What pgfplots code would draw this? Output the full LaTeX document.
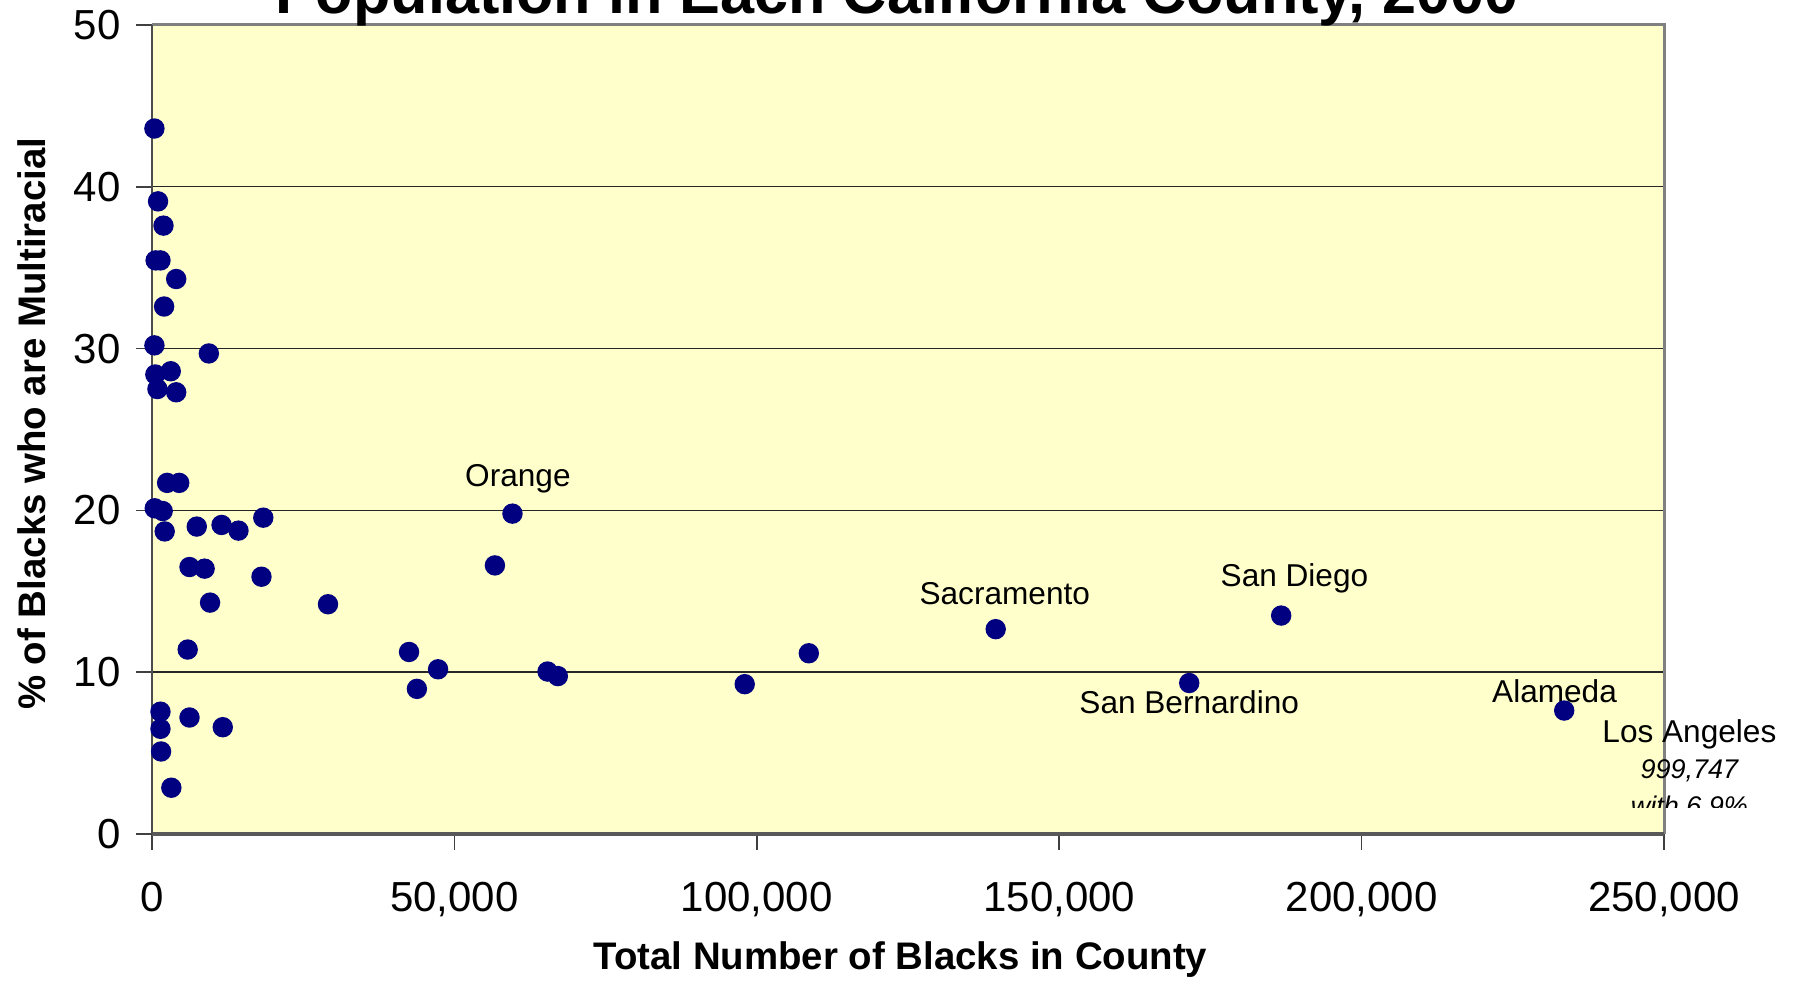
\documentclass[border=0pt]{standalone}
\usepackage{fontspec}
\setmainfont{Liberation Sans}
\usepackage{pgfplots}
\pgfplotsset{compat=1.18}
\definecolor{bgyellow}{HTML}{FFFFCC}
\definecolor{navy}{HTML}{000080}
\begin{document}
\begin{tikzpicture}
\begin{axis}[
  at={(0,0)}, anchor=south west,
  scale only axis, width=378pt, height=202.25pt,
  xmin=0, xmax=250000, ymin=0, ymax=50,
  xtick={0,50000,100000,150000,200000,250000},
  xticklabels={0,{50,000},{100,000},{150,000},{200,000},{250,000}},
  ytick={0,10,20,30,40,50},
  yticklabels={0,10,20,30,40,50},
  scaled x ticks=false,
  xticklabel style={anchor=base, yshift=-15.3pt},
  yticklabel style={anchor=east, inner sep=0pt, xshift=-3.7pt},
  ticklabel style={font=\fontsize{10.5}{12}\selectfont},
  tick align=outside, xtick pos=bottom, ytick pos=left,
  major tick length=4pt,
  tick style={black!75, line width=0.4pt},
  axis line style={draw=none},
  ymajorgrids, major grid style={black!85, line width=0.35pt},
  axis background/.style={fill=bgyellow},
  clip=false,
  xlabel={Total Number of Blacks in County},
  ylabel={\% of Blacks who are Multiracial},
  xlabel style={at={(axis description cs:0.495,-0.1557)}, anchor=center, font=\bfseries\fontsize{9.6}{11}\selectfont},
  ylabel style={at={(axis description cs:-0.0794,0.507)}, anchor=center, font=\bfseries\fontsize{9.6}{11}\selectfont},
]
\draw[gray, line width=0.75pt] (rel axis cs:0,1) -- (rel axis cs:1,1) -- (rel axis cs:1,0);
\draw[black!65, line width=0.9pt] (rel axis cs:0,0) -- (rel axis cs:1,0);
\draw[black!70, line width=0.5pt] (rel axis cs:0,0) -- (rel axis cs:0,1);
\addplot[only marks, mark=*, mark size=2.35pt, color=navy, mark options={fill=navy, draw=navy}] coordinates {
(400,43.6) (1000,39.1) (1900,37.6) (600,35.45) (1400,35.45) (4000,34.3)
(2000,32.6) (400,30.2) (9400,29.7) (550,28.4) (3100,28.6) (900,27.5)
(4000,27.3) (2500,21.7) (4500,21.7) (450,20.13) (1770,19.96) (2100,18.7)
(7400,19.0) (11500,19.1) (14300,18.75) (18400,19.55) (59600,19.8)
(6200,16.5) (8700,16.4) (56700,16.6) (18100,15.9) (9600,14.3) (29100,14.2)
(5900,11.4) (42500,11.25) (43800,8.97) (47300,10.18) (65400,10.04)
(67100,9.76) (98000,9.26) (108600,11.17) (139500,12.66) (171500,9.33)
(186700,13.5) (233500,7.63) (1400,7.56) (6200,7.2) (1400,6.5)
(11700,6.6) (1500,5.1) (3200,2.86)
};
\node[anchor=base, font=\fontsize{7.9}{9}\selectfont] at (axis cs:60500,21.5) {Orange};
\node[anchor=base, font=\fontsize{7.9}{9}\selectfont] at (axis cs:141000,14.2) {Sacramento};
\node[anchor=base, font=\fontsize{7.9}{9}\selectfont] at (axis cs:188900,15.28) {San Diego};
\node[anchor=base, font=\fontsize{7.9}{9}\selectfont] at (axis cs:171500,7.42) {San Bernardino};
\node[anchor=base, font=\fontsize{7.9}{9}\selectfont] at (axis cs:231900,8.14) {Alameda};
\node[anchor=base, font=\fontsize{7.9}{9}\selectfont] at (axis cs:254200,5.64) {Los Angeles};
\node[anchor=base, font=\itshape\fontsize{6.75}{8}\selectfont] at (axis cs:254200,3.40) {999,747};
\coordinate (la3) at (axis cs:254200,1.17);
\end{axis}
\begin{scope}
\clip (300pt,6.5pt) rectangle (450pt,40pt);
\node[anchor=base, font=\itshape\fontsize{6.75}{8}\selectfont] at (la3) {with 6.9\%};
\end{scope}
\node[anchor=base, font=\bfseries\fontsize{15.3}{18}\selectfont] at (186.2pt,205pt) {Population in Each California County, 2000};
\pgfresetboundingbox
\useasboundingbox (-38pt,-37pt) rectangle (411.25pt,208.5pt);
\end{tikzpicture}
\end{document}
